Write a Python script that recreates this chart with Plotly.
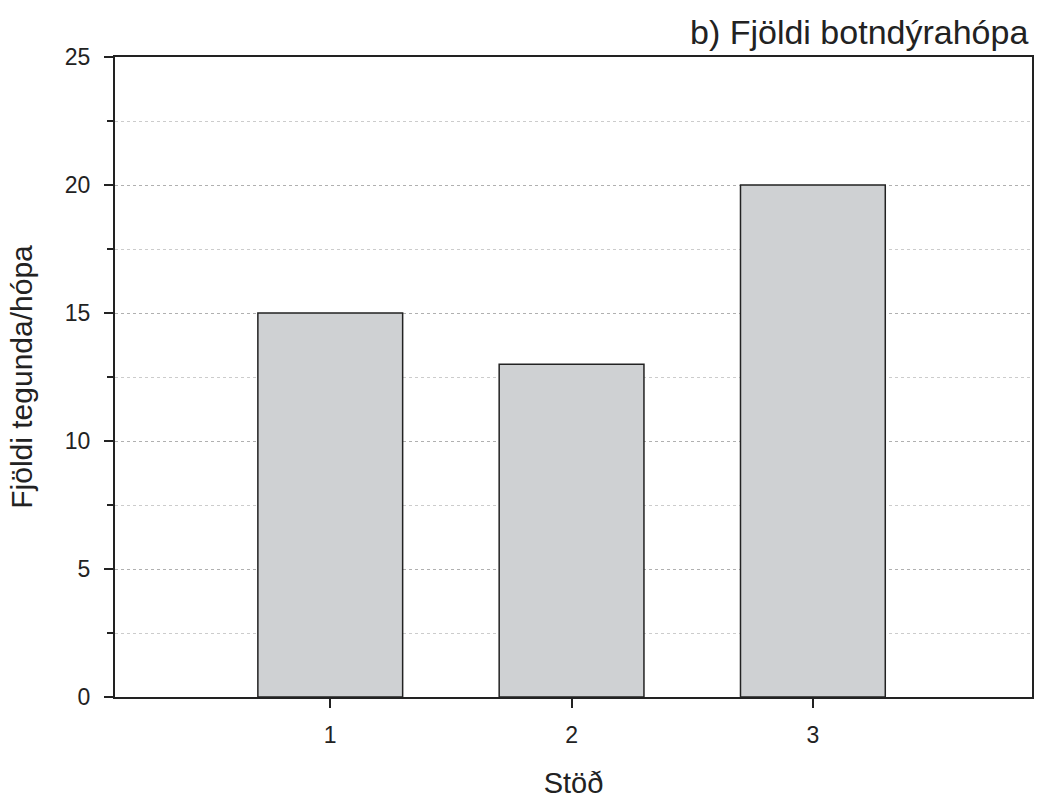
import plotly.graph_objects as go

stations = [1, 2, 3]
counts = [15, 13, 20]
y_ticks = [0, 5, 10, 15, 20, 25]
title_text = "b) Fjöldi botndýrahópa"
x_title = "Stöð"
y_title = "Fjöldi tegunda/hópa"

FONT = "Liberation Sans, Arial, sans-serif"

fig = go.Figure()
fig.add_trace(go.Bar(
    x=stations, y=counts, width=0.6,
    marker=dict(color="#cfd1d3", line=dict(color="#222222", width=1.5)),
))

fig.update_layout(
    width=1051, height=806,
    margin=dict(l=115, r=19, t=57, b=107),
    paper_bgcolor="white", plot_bgcolor="white",
    showlegend=False,
    font=dict(family=FONT, color="#222222"),
    annotations=[dict(
        text=title_text, xref="paper", yref="paper", x=1.0, y=1.0,
        xanchor="right", yanchor="bottom", yshift=4, xshift=-2, showarrow=False,
        font=dict(size=34, family=FONT, color="#222222"),
    )],
)

fig.update_xaxes(
    range=[0.108, 3.908], tickvals=stations, ticktext=[str(s) for s in stations],
    ticks="outside", ticklen=9, tickwidth=1.5, tickcolor="#222222",
    showline=True, linecolor="#222222", linewidth=2, mirror=True,
    showgrid=False, zeroline=False,
    tickfont=dict(size=23, family=FONT),
    ticklabelstandoff=7,
    title=dict(text=x_title, font=dict(size=29, family=FONT), standoff=26),
)

fig.update_yaxes(
    range=[0, 25], tickvals=y_ticks,
    ticks="outside", ticklen=9, tickwidth=1.5, tickcolor="#222222",
    showline=True, linecolor="#222222", linewidth=2, mirror=True,
    showgrid=True, gridcolor="#b0b0b0", gridwidth=1, griddash="dot",
    zeroline=False,
    tickfont=dict(size=23, family=FONT),
    ticklabelstandoff=9,
    minor=dict(tick0=2.5, dtick=5, ticks="outside", ticklen=6, tickwidth=1.5,
               tickcolor="#222222", showgrid=True, gridcolor="#cccccc",
               gridwidth=1, griddash="dot"),
    title=dict(text=y_title, font=dict(size=30, family=FONT), standoff=23),
)

fig.write_html("out.html")
